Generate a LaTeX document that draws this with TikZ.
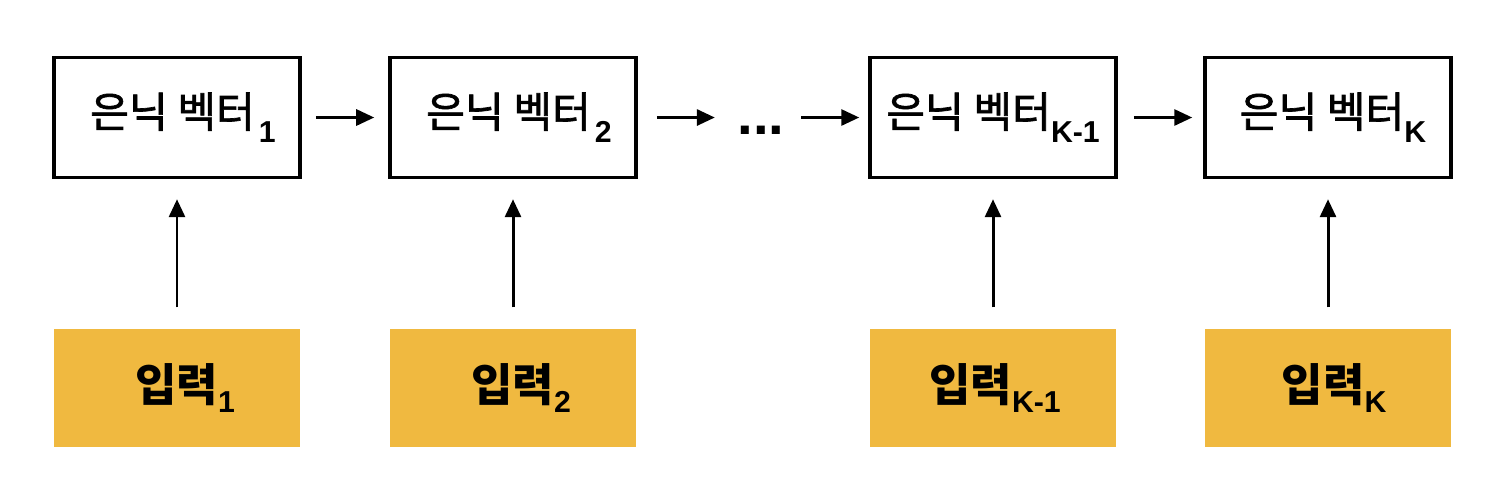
\documentclass[tikz,border=0pt]{standalone}
\usepackage{fontspec}
\setmainfont{Liberation Sans}
\newfontfamily\krfont[FakeBold=1.6]{Noto Sans CJK KR}
\newfontfamily\krbold{Noto Sans CJK KR}
\usetikzlibrary{positioning,arrows.meta}
\definecolor{inputorange}{HTML}{F0B940}

% lowered index after the Hangul label
\newcommand{\idx}[2][0.11cm]{\raisebox{-#1}{\normalfont\fontsize{8.6}{10}\selectfont\bfseries #2}}

\tikzset{
  hidden/.style={draw, line width=0.95pt, minimum width=2.46cm, minimum height=1.2cm,
    inner sep=0pt, font=\krfont\fontsize{12}{14}\selectfont},
  input/.style={fill=inputorange, minimum width=2.46cm, minimum height=1.18cm,
    inner sep=0pt, font=\krbold\bfseries\fontsize{12.8}{15}\selectfont},
  link/.style={-{Triangle[length=0.18cm,width=0.16cm]}, line width=0.85pt},
}

\begin{document}
\begin{tikzpicture}[x=0.01cm, y=-0.01cm]
\useasboundingbox (0,0) rectangle (1500,478);

% hidden vectors
\node[hidden] (h1) at (177,117.5) {\hspace{0.12cm}은닉 벡터\kern0.04cm\idx[0.15cm]{1}};
\node[hidden] (h2) at (513,117.5) {\hspace{0.12cm}은닉 벡터\kern0.04cm\idx[0.15cm]{2}};
\node[hidden] (h3) at (993,117.5) {은닉 벡터\idx[0.15cm]{K-1}};
\node[hidden] (h4) at (1328,117.5) {\hspace{0.1cm}은닉 벡터\idx[0.15cm]{K}};

\node[inner sep=0pt] (dots) at (761,117.5)
  {\raisebox{-0.17cm}[0pt][0pt]{\bfseries\fontsize{16}{18}\selectfont ...}};

% inputs
\node[input] (x1) at (177,388) {\hspace{0.16cm}입력\idx{1}};
\node[input] (x2) at (513,388) {\hspace{0.16cm}입력\idx{2}};
\node[input] (x3) at (993,388) {\hspace{0.04cm}입력\idx{K-1}};
\node[input] (x4) at (1328,388) {\hspace{0.12cm}입력\idx{K}};

\draw[link, shorten <=0.14cm, shorten >=0.14cm] (h1) -- (h2);
\draw[link, shorten <=0.19cm, shorten >=0.22cm] (h2) -- (dots);
\draw[link, shorten <=0.16cm, shorten >=0.09cm] (dots) -- (h3);
\draw[link, shorten <=0.16cm, shorten >=0.11cm] (h3) -- (h4);

\foreach \i in {1,...,4}
  \draw[link, shorten <=0.21cm, shorten >=0.2cm] (x\i) -- (h\i);

\end{tikzpicture}
\end{document}
